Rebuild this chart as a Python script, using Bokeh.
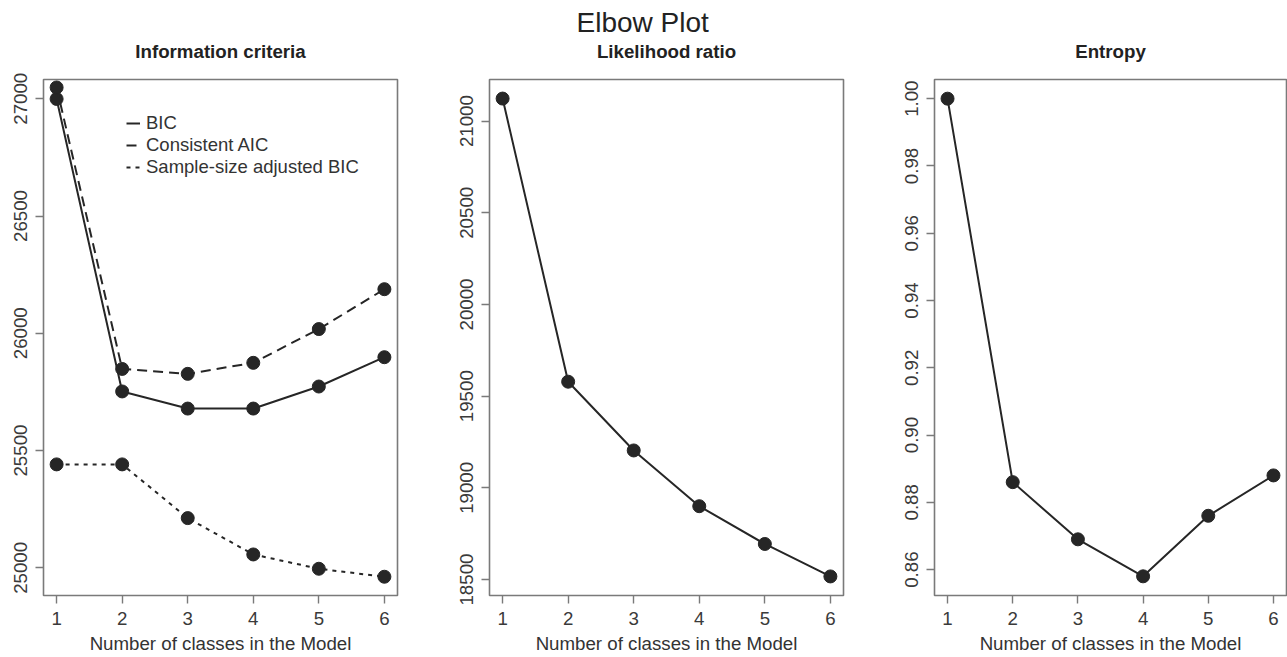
from bokeh.plotting import figure
from bokeh.models import Range1d, FixedTicker, Title, Legend, LegendItem
from bokeh.layouts import row
from bokeh.embed import file_html
from bokeh.resources import INLINE

# ---- data ----
classes = [1, 2, 3, 4, 5, 6]
bic = [26999, 25752, 25679, 25679, 25773, 25898]
caic = [27048, 25848, 25827, 25874, 26018, 26188]
sabic = [25441, 25441, 25212, 25057, 24996, 24962]
likelihood_ratio = [21123, 19579, 19204, 18900, 18694, 18517]
entropy = [1.000, 0.886, 0.869, 0.858, 0.876, 0.888]

x_ticks = [1, 2, 3, 4, 5, 6]
x_tick_labels = ["1", "2", "3", "4", "5", "6"]
ic_ticks = [25000, 25500, 26000, 26500, 27000]
ic_tick_labels = ["25000", "25500", "26000", "26500", "27000"]
lr_ticks = [18500, 19000, 19500, 20000, 20500, 21000]
lr_tick_labels = ["18500", "19000", "19500", "20000", "20500", "21000"]
ent_ticks = [0.86, 0.88, 0.90, 0.92, 0.94, 0.96, 0.98, 1.00]
ent_tick_labels = ["0.86", "0.88", "0.90", "0.92", "0.94", "0.96", "0.98", "1.00"]

FONT = "Liberation Sans"
INK = "#262626"
BOX = "#7a7a7a"
TXT = "#333333"
FS = "18.7px"
H = 656
TOP = 79
BOTTOM = 61


def make_panel(width, left, right, y_rng, yticks, ylabels, subtitle, main=" ", main_offset=0):
    p = figure(width=width, height=H, x_range=Range1d(0.8, 6.2), y_range=Range1d(*y_rng),
               output_backend="svg", toolbar_location=None,
               min_border_left=left, min_border_right=right,
               min_border_top=TOP, min_border_bottom=BOTTOM)
    p.grid.visible = False
    p.outline_line_color = BOX
    p.outline_line_width = 1.6
    p.background_fill_color = "white"
    p.border_fill_color = "white"

    st = Title(text=subtitle, align="center", text_font=FONT, text_font_size=FS,
               text_font_style="bold", text_color="#222222", standoff=36)
    p.add_layout(st, "above")
    mt = Title(text=main, align="left", offset=main_offset, text_font=FONT, text_font_size="28px",
               text_font_style="normal", text_color="#222222", standoff=-34)
    p.add_layout(mt, "above")

    for ax in (p.xaxis[0], p.yaxis[0]):
        ax.axis_line_color = None
        ax.major_tick_line_color = BOX
        ax.major_tick_line_width = 1.4
        ax.major_tick_out = 8
        ax.major_tick_in = 0
        ax.minor_tick_line_color = None
        ax.major_label_text_font = FONT
        ax.major_label_text_font_size = FS
        ax.major_label_text_color = "#3a3a3a"

    p.xaxis.ticker = FixedTicker(ticks=x_ticks)
    p.xaxis.major_label_overrides = {t: l for t, l in zip(x_ticks, x_tick_labels)}
    p.xaxis.major_label_standoff = 8
    p.xaxis.axis_label = "Number of classes in the Model"
    p.xaxis.axis_label_text_font = FONT
    p.xaxis.axis_label_text_font_size = FS
    p.xaxis.axis_label_text_font_style = "normal"
    p.xaxis.axis_label_text_color = TXT
    p.xaxis.axis_label_standoff = 5

    p.yaxis.ticker = FixedTicker(ticks=yticks)
    p.yaxis.major_label_overrides = {t: l for t, l in zip(yticks, ylabels)}
    p.yaxis.major_label_orientation = "vertical"
    p.yaxis.major_label_standoff = 8
    return p


def series(p, y, dash):
    r = p.line(classes, y, line_color=INK, line_width=2, line_dash=dash)
    p.scatter(classes, y, size=13, fill_color=INK, line_color=INK)
    return r


# Panel 1: information criteria
p1 = make_panel(441, 43, 44, (24882, 27082), ic_ticks, ic_tick_labels, "Information criteria")
r_bic = series(p1, bic, "solid")
r_caic = series(p1, caic, "10 6")
r_sabic = series(p1, sabic, "4 5")
legend = Legend(items=[LegendItem(label="BIC", renderers=[r_bic]),
                       LegendItem(label="Consistent AIC", renderers=[r_caic]),
                       LegendItem(label="Sample-size adjusted BIC", renderers=[r_sabic])],
                location=(83, 417), orientation="vertical",
                background_fill_alpha=0, border_line_alpha=0, padding=0, margin=0,
                spacing=0, glyph_width=14, glyph_height=20, label_height=20,
                label_standoff=6, label_text_font=FONT, label_text_font_size="18.5px",
                label_text_color=TXT)
p1.add_layout(legend)

# Panel 2: likelihood ratio
p2 = make_panel(446, 48, 44, (18413, 21227), lr_ticks, lr_tick_labels, "Likelihood ratio",
                main="Elbow Plot", main_offset=87)
series(p2, likelihood_ratio, "solid")

# Panel 3: entropy
p3 = make_panel(400, 47, 1, (0.8523, 1.0057), ent_ticks, ent_tick_labels, "Entropy")
series(p3, entropy, "solid")

layout = row(p1, p2, p3)
open("out.html", "w").write(file_html(layout, INLINE))
